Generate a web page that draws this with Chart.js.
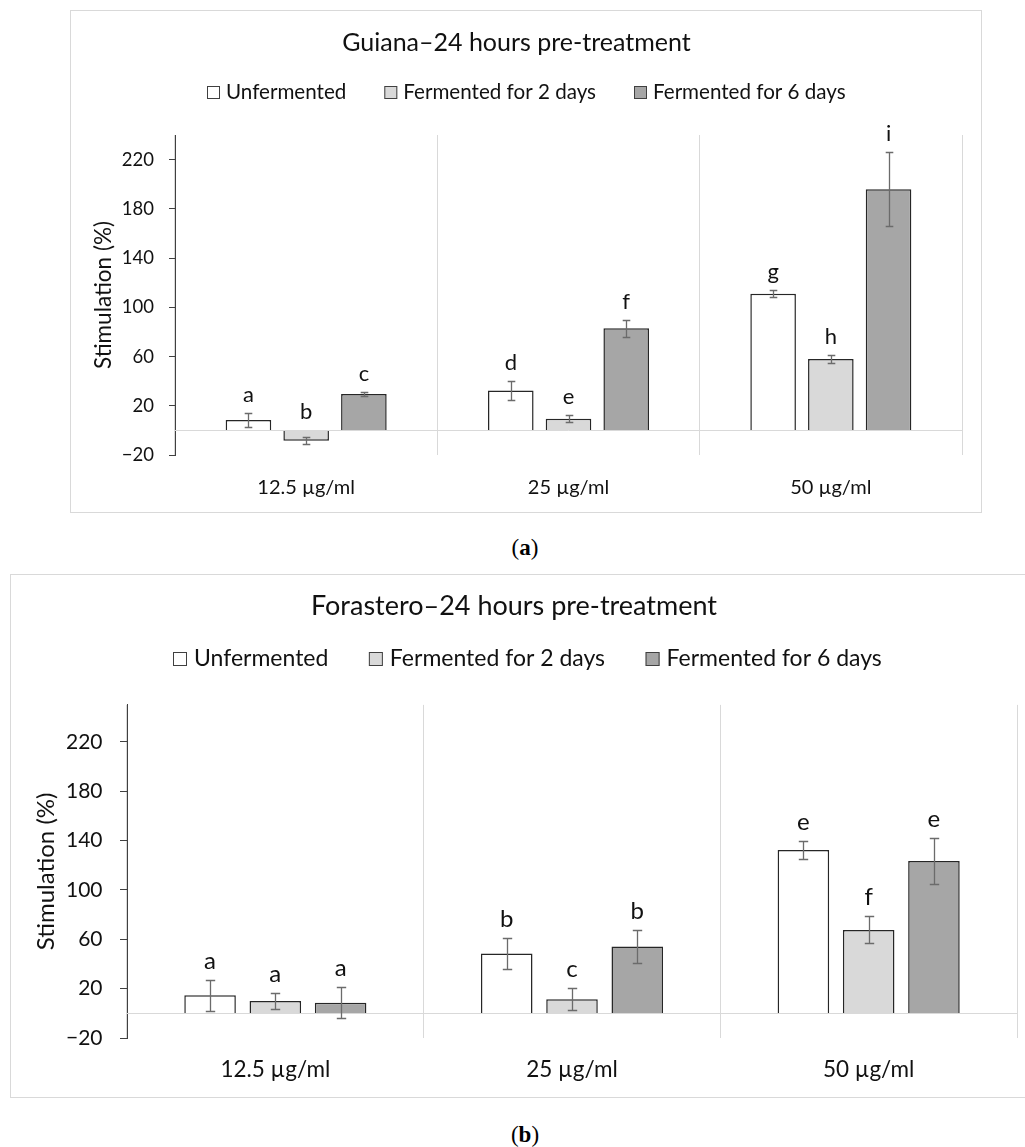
<!DOCTYPE html>
<html>
<head>
<meta charset="utf-8">
<script src="https://cdn.jsdelivr.net/npm/chart.js@4.4.1/dist/chart.umd.min.js"></script>
<style>
    html, body { margin: 0; padding: 0; background: #fff; overflow: hidden; width: 1025px; height: 1147px; }
    .box { position: absolute; border: 1px solid #d9d9d9; }
    #boxA { left: 70px; top: 10px; width: 910px; height: 501px; }
    #boxB { left: 10px; top: 574px; width: 1032px; height: 522px; }
    .caption { position: absolute; left: 475px; width: 100px; text-align: center; line-height: 26px;
               font-family: "Liberation Serif", "DejaVu Serif", serif; font-size: 23px; color: #000; }
</style>
</head>
<body>
<div class="box" id="boxA"><canvas id="chartA" width="910" height="501"></canvas></div>
<div class="caption" style="top:535px">(<b>a</b>)</div>
<div class="box" id="boxB"><canvas id="chartB" width="1032" height="522"></canvas></div>
<div class="caption" style="top:1122px">(<b>b</b>)</div>

<script>
// --- DATA ---

const categories = ['12.5 µg/ml', '25 µg/ml', '50 µg/ml'];
const seriesNames = ['Unfermented', 'Fermented for 2 days', 'Fermented for 6 days'];
const seriesFills = ['#ffffff', '#d9d9d9', '#a6a6a6'];
const yTickValues = [-20, 20, 60, 100, 140, 180, 220];

// (a) Guiana, 24 hours pre-treatment
const guianaUnfermented = [8.4, 32.5, 111.0];
const guianaFerm2 = [-8.5, 9.5, 58.0];
const guianaFerm6 = [29.5, 83.0, 196.0];
const guianaErrUnfermented = [5.7, 7.7, 2.7];
const guianaErrFerm2 = [2.9, 2.8, 3.5];
const guianaErrFerm6 = [1.5, 7.0, 30.0];
const guianaLettersUnfermented = ['a', 'd', 'g'];
const guianaLettersFerm2 = ['b', 'e', 'h'];
const guianaLettersFerm6 = ['c', 'f', 'i'];

// (b) Forastero, 24 hours pre-treatment
const forasteroUnfermented = [14.6, 48.4, 132.3];
const forasteroFerm2 = [10.0, 11.4, 67.6];
const forasteroFerm6 = [8.5, 54.1, 123.4];
const forasteroErrUnfermented = [12.6, 12.5, 7.2];
const forasteroErrFerm2 = [6.6, 8.8, 11.0];
const forasteroErrFerm6 = [12.5, 13.4, 18.5];
const forasteroLettersUnfermented = ['a', 'b', 'e'];
const forasteroLettersFerm2 = ['a', 'c', 'f'];
const forasteroLettersFerm6 = ['a', 'b', 'e'];

const FONT = 'Lato';
const TEXT = '#111';
Chart.defaults.font.family = FONT;
Chart.defaults.color = TEXT;

// --- PLUGINS ---

// zero line, error bars and significance letters
const barExtras = {
    id: 'barExtras',
    afterDatasetsDraw(chart, args, o) {
        const ctx = chart.ctx;
        const y = chart.scales.y;
        const area = chart.chartArea;
        ctx.save();
        ctx.strokeStyle = '#d9d9d9';
        ctx.lineWidth = 1;
        const y0 = Math.round(y.getPixelForValue(0)) + 0.5;
        ctx.beginPath();
        ctx.moveTo(area.left, y0);
        ctx.lineTo(area.right, y0);
        ctx.stroke();

        chart.data.datasets.forEach((ds, i) => {
            chart.getDatasetMeta(i).data.forEach((bar, j) => {
                const v = ds.data[j], e = ds.errors[j];
                const top = Math.round(y.getPixelForValue(v + e)) + 0.5;
                const bot = Math.round(y.getPixelForValue(v - e)) + 0.5;
                const x = Math.round(bar.x) + 0.5;
                ctx.strokeStyle = '#6b6b6b';
                ctx.lineWidth = 1.3;
                ctx.beginPath();
                ctx.moveTo(x, top); ctx.lineTo(x, bot);
                ctx.moveTo(x - o.cap, top); ctx.lineTo(x + o.cap, top);
                ctx.moveTo(x - o.cap, bot); ctx.lineTo(x + o.cap, bot);
                ctx.stroke();

                ctx.fillStyle = TEXT;
                ctx.font = o.letterSize + 'px ' + FONT;
                ctx.textAlign = 'center';
                ctx.textBaseline = 'alphabetic';
                ctx.fillText(ds.letters[j], bar.x, y.getPixelForValue(Math.max(0, v + e)) - o.letterGap);
            });
        });
        ctx.restore();
    }
};

// legend row under the title
const topLegend = {
    id: 'topLegend',
    afterDraw(chart, args, o) {
        const ctx = chart.ctx;
        ctx.save();
        ctx.font = o.size + 'px ' + FONT;
        const widths = chart.data.datasets.map(ds => ctx.measureText(ds.label).width);
        const total = widths.reduce((s, w) => s + o.box + o.boxGap + w, 0) + o.itemGap * (widths.length - 1);
        let x = Math.round(chart.width / 2 - total / 2);
        chart.data.datasets.forEach((ds, i) => {
            const by = Math.round(o.y - o.box / 2);
            ctx.fillStyle = ds.backgroundColor;
            ctx.fillRect(x, by, o.box, o.box);
            ctx.strokeStyle = '#404040';
            ctx.lineWidth = 1;
            ctx.strokeRect(x + 0.5, by + 0.5, o.box - 1, o.box - 1);
            ctx.fillStyle = TEXT;
            ctx.textAlign = 'left';
            ctx.textBaseline = 'middle';
            ctx.fillText(ds.label, x + o.box + o.boxGap, o.y);
            x += o.box + o.boxGap + widths[i] + o.itemGap;
        });
        ctx.restore();
    }
};

// --- CHART BUILDER ---

function makeChart(canvasId, title, values, errors, letters, s) {
    const datasets = seriesNames.map((name, i) => ({
        label: name,
        data: values[i],
        errors: errors[i],
        letters: letters[i],
        backgroundColor: seriesFills[i],
        borderColor: '#262626',
        borderWidth: 1.5,
        categoryPercentage: 0.66,
        barPercentage: 0.79
    }));

    return new Chart(document.getElementById(canvasId), {
        type: 'bar',
        data: { labels: categories, datasets: datasets },
        options: {
            responsive: false,
            animation: false,
            layout: { padding: { left: 0, right: s.padRight, top: 0, bottom: 0 } },
            plugins: {
                legend: { display: false },
                tooltip: { enabled: false },
                title: {
                    display: true,
                    text: title,
                    color: TEXT,
                    font: { size: s.titleSize, weight: 'normal' },
                    padding: { top: s.titleTop, bottom: s.titleBottom }
                },
                topLegend: s.legend,
                barExtras: { cap: s.cap, letterSize: s.letterSize, letterGap: s.letterGap }
            },
            scales: {
                x: {
                    grid: { display: true, offset: true, color: '#d9d9d9', lineWidth: 1, drawTicks: false },
                    border: { display: false },
                    ticks: { font: { size: s.catSize }, color: TEXT, padding: s.catPad },
                    afterFit: (scale) => { scale.height = s.xHeight; }
                },
                y: {
                    min: -20,
                    max: s.yMax,
                    afterBuildTicks: (scale) => { scale.ticks = yTickValues.map(v => ({ value: v })); },
                    grid: { drawOnChartArea: false, drawTicks: true, tickLength: s.tickLen, tickColor: '#404040' },
                    border: { display: true, color: '#404040', width: 1 },
                    ticks: {
                        font: { size: s.tickSize },
                        color: TEXT,
                        padding: s.tickPad,
                        callback: (v) => (v < 0 ? '\u2212' + Math.abs(v) : String(v))
                    },
                    title: {
                        display: true,
                        text: 'Stimulation (%)',
                        color: TEXT,
                        font: { size: s.axisTitleSize },
                        padding: { top: s.axisTitlePad, bottom: 0 }
                    },
                    afterFit: (scale) => { scale.width = s.yWidth; }
                }
            }
        },
        plugins: [barExtras, topLegend]
    });
}

window.onload = () => {
    makeChart('chartA', 'Guiana\u201324 hours pre-treatment',
        [guianaUnfermented, guianaFerm2, guianaFerm6],
        [guianaErrUnfermented, guianaErrFerm2, guianaErrFerm6],
        [guianaLettersUnfermented, guianaLettersFerm2, guianaLettersFerm6],
        {
            yMax: 240, yWidth: 104, xHeight: 57, padRight: 19,
            titleSize: 25, titleTop: 17, titleBottom: 77,
            tickSize: 18.5, tickLen: 6, tickPad: 15,
            catSize: 20, catPad: 21,
            axisTitleSize: 22.5, axisTitlePad: 19.3,
            legend: { y: 81, size: 20.6, box: 13, boxGap: 6, itemGap: 38 },
            cap: 3.8, letterSize: 22, letterGap: 11
        });

    makeChart('chartB', 'Forastero\u201324 hours pre-treatment',
        [forasteroUnfermented, forasteroFerm2, forasteroFerm6],
        [forasteroErrUnfermented, forasteroErrFerm2, forasteroErrFerm6],
        [forasteroLettersUnfermented, forasteroLettersFerm2, forasteroLettersFerm6],
        {
            yMax: 250, yWidth: 116, xHeight: 59, padRight: 26,
            titleSize: 27, titleTop: 15.5, titleBottom: 82,
            tickSize: 21, tickLen: 7, tickPad: 17.5,
            catSize: 22.5, catPad: 18.5,
            axisTitleSize: 24, axisTitlePad: 21.3,
            legend: { y: 84, size: 23, box: 14, boxGap: 7, itemGap: 40.5 },
            cap: 4.7, letterSize: 24, letterGap: 11
        });
};
</script>
</body>
</html>
